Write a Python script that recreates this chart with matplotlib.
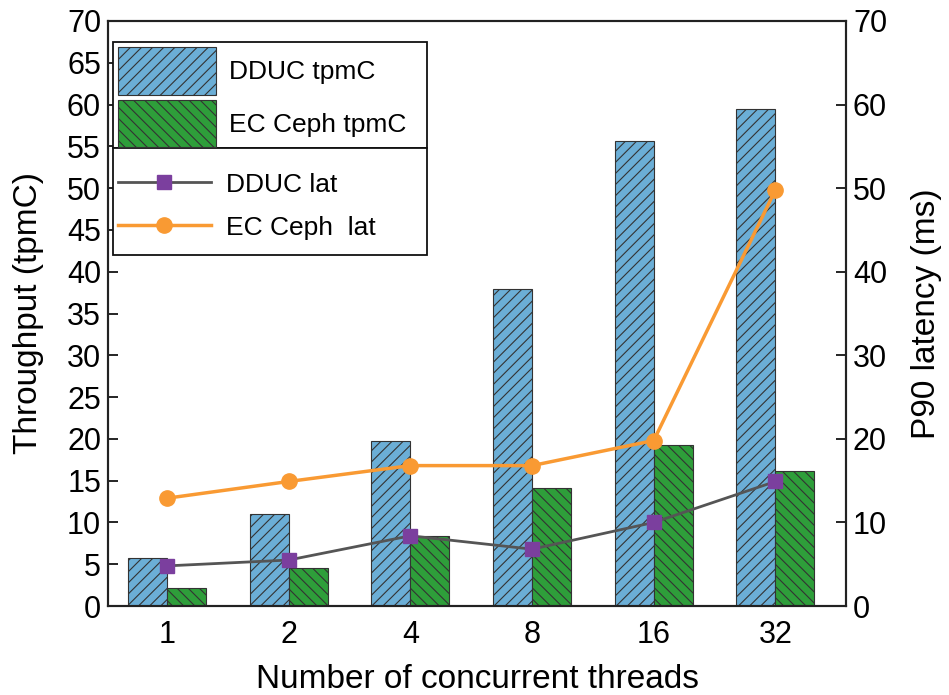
import matplotlib
matplotlib.use("Agg")
import matplotlib.pyplot as plt
from matplotlib.patches import Rectangle
import numpy as np

plt.rcParams['font.family'] = ['Liberation Sans', 'DejaVu Sans']
plt.rcParams['hatch.linewidth'] = 0.8

categories = ["1", "2", "4", "8", "16", "32"]
dduc_tpmc = [5.8, 11.0, 19.7, 37.9, 55.7, 59.5]
ec_tpmc = [2.2, 4.6, 8.4, 14.1, 19.3, 16.1]
dduc_lat = [4.8, 5.5, 8.4, 6.8, 10.0, 14.9]
ec_lat = [12.9, 14.9, 16.8, 16.8, 19.8, 49.8]

fig = plt.figure(figsize=(9.49, 6.95), dpi=100)
ax = fig.add_axes([108/949, 1-606/695, (846-108)/949, (606-21)/695])
ax2 = ax.twinx()

x = np.arange(len(categories))
w = 0.32
blue = '#6BAED6'
green = '#2E9E3A'
b1 = ax.bar(x - w/2, dduc_tpmc, w, color=blue, edgecolor='#333333', hatch='///', linewidth=0.8, label='DDUC tpmC')
b2 = ax.bar(x + w/2, ec_tpmc, w, color=green, edgecolor='#333333', hatch='\\\\\\', linewidth=0.8, label='EC Ceph tpmC')

l1, = ax2.plot(x, dduc_lat, color='#555555', lw=2, marker='s', markersize=10,
               markerfacecolor='#7B3F9E', markeredgecolor='#7B3F9E', label='DDUC lat')
l2, = ax2.plot(x, ec_lat, color='#F99A33', lw=2.5, marker='o', markersize=11,
               markerfacecolor='#F99A33', markeredgecolor='#F99A33', label='EC Ceph  lat')

ax.set_xlim(-0.485, 5.58)
ax.set_ylim(0, 70)
ax2.set_ylim(0, 70)
ax.set_yticks(np.arange(0, 71, 5))
ax2.set_yticks(np.arange(0, 71, 10))
ax.set_xticks(x)
ax.set_xticklabels(categories)
ax.tick_params(axis='y', direction='in', length=7, width=1.2, labelsize=22, pad=5)
ax.tick_params(axis='x', length=0, labelsize=22, pad=10)
ax2.tick_params(axis='y', direction='in', length=7, width=1.2, labelsize=22, pad=5)
for a in (ax, ax2):
    for sp in a.spines.values():
        sp.set_linewidth(1.5)
        sp.set_color('#222222')

ax.set_ylabel('Throughput (tpmC)', fontsize=24)
ax2.set_ylabel('P90 latency (ms)', fontsize=24)
ax.set_xlabel('Number of concurrent threads', fontsize=24)
W, H = 949, 695
ax.yaxis.set_label_coords((44 - 108) / (846 - 108), 0.5)
ax2.yaxis.set_label_coords((911 - 108) / (846 - 108), 0.5)
ax.xaxis.set_label_coords(0.5, -(664 - 606) / 585)

for (y0, y1) in [(42, 148), (148, 255)]:
    r = Rectangle((113/W, 1-y1/H), (427-113)/W, (y1-y0)/H, transform=fig.transFigure,
                  facecolor='white', edgecolor='#111111', linewidth=1.3, zorder=4.9)
    ax2.add_artist(r)

leg1 = ax2.legend(handles=[b1, b2], loc='upper left', bbox_to_anchor=(113/W, 1-42/H),
                  bbox_transform=fig.transFigure, fontsize=19,
                  handlelength=3.7, handleheight=2.4, handletextpad=0.5, labelspacing=0.18,
                  borderpad=0.2, borderaxespad=0, frameon=False)
ax2.add_artist(leg1)
leg2 = ax2.legend(handles=[l1, l2], loc='upper left', bbox_to_anchor=(113/W, 1-166/H),
                  bbox_transform=fig.transFigure, fontsize=19,
                  handlelength=3.5, handleheight=1.0, handletextpad=0.6, labelspacing=0.65,
                  borderpad=0.2, borderaxespad=0, frameon=False)

fig.savefig('out.png', dpi=100)
